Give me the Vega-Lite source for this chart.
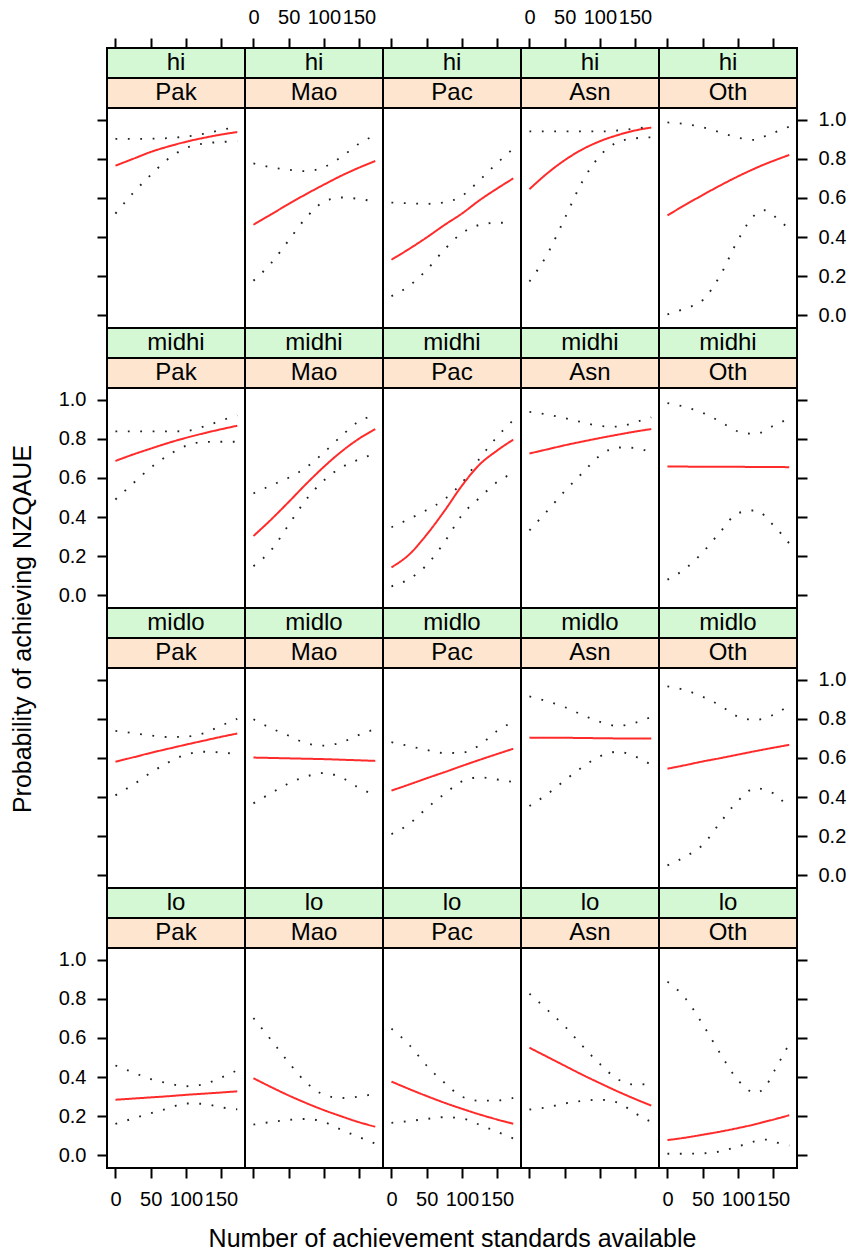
{
"$schema": "https://vega.github.io/schema/vega-lite/v6.json",
"padding": {"left": 11, "top": 6, "right": 5, "bottom": 2},
"datasets": {"d": [
{"s":"hi","e":"Pak","x":0,"lo":0.52,"fit":0.765,"up":0.902},
{"s":"hi","e":"Pak","x":25,"lo":0.625,"fit":0.80,"up":0.902},
{"s":"hi","e":"Pak","x":50,"lo":0.717,"fit":0.835,"up":0.903},
{"s":"hi","e":"Pak","x":75,"lo":0.80,"fit":0.863,"up":0.906},
{"s":"hi","e":"Pak","x":100,"lo":0.855,"fit":0.887,"up":0.914},
{"s":"hi","e":"Pak","x":125,"lo":0.878,"fit":0.907,"up":0.928},
{"s":"hi","e":"Pak","x":150,"lo":0.886,"fit":0.924,"up":0.947},
{"s":"hi","e":"Pak","x":173,"lo":0.89,"fit":0.937,"up":0.965},
{"s":"hi","e":"Mao","x":0,"lo":0.177,"fit":0.463,"up":0.777},
{"s":"hi","e":"Mao","x":25,"lo":0.266,"fit":0.516,"up":0.757},
{"s":"hi","e":"Mao","x":50,"lo":0.383,"fit":0.569,"up":0.744},
{"s":"hi","e":"Mao","x":75,"lo":0.50,"fit":0.62,"up":0.737},
{"s":"hi","e":"Mao","x":100,"lo":0.58,"fit":0.668,"up":0.758},
{"s":"hi","e":"Mao","x":125,"lo":0.602,"fit":0.714,"up":0.81},
{"s":"hi","e":"Mao","x":150,"lo":0.595,"fit":0.755,"up":0.878},
{"s":"hi","e":"Mao","x":173,"lo":0.58,"fit":0.789,"up":0.92},
{"s":"hi","e":"Pac","x":0,"lo":0.098,"fit":0.284,"up":0.576},
{"s":"hi","e":"Pac","x":25,"lo":0.15,"fit":0.339,"up":0.573},
{"s":"hi","e":"Pac","x":50,"lo":0.232,"fit":0.398,"up":0.57},
{"s":"hi","e":"Pac","x":75,"lo":0.335,"fit":0.461,"up":0.577},
{"s":"hi","e":"Pac","x":100,"lo":0.42,"fit":0.52,"up":0.61},
{"s":"hi","e":"Pac","x":125,"lo":0.462,"fit":0.588,"up":0.69},
{"s":"hi","e":"Pac","x":150,"lo":0.473,"fit":0.648,"up":0.778},
{"s":"hi","e":"Pac","x":173,"lo":0.473,"fit":0.70,"up":0.852},
{"s":"hi","e":"Asn","x":0,"lo":0.173,"fit":0.645,"up":0.94},
{"s":"hi","e":"Asn","x":25,"lo":0.31,"fit":0.725,"up":0.94},
{"s":"hi","e":"Asn","x":50,"lo":0.495,"fit":0.793,"up":0.94},
{"s":"hi","e":"Asn","x":75,"lo":0.683,"fit":0.848,"up":0.94},
{"s":"hi","e":"Asn","x":100,"lo":0.815,"fit":0.89,"up":0.94},
{"s":"hi","e":"Asn","x":125,"lo":0.885,"fit":0.921,"up":0.945},
{"s":"hi","e":"Asn","x":150,"lo":0.905,"fit":0.945,"up":0.955},
{"s":"hi","e":"Asn","x":173,"lo":0.91,"fit":0.96,"up":0.965},
{"s":"hi","e":"Oth","x":0,"lo":0.005,"fit":0.511,"up":0.986},
{"s":"hi","e":"Oth","x":25,"lo":0.035,"fit":0.564,"up":0.978},
{"s":"hi","e":"Oth","x":50,"lo":0.077,"fit":0.615,"up":0.961},
{"s":"hi","e":"Oth","x":75,"lo":0.204,"fit":0.664,"up":0.935},
{"s":"hi","e":"Oth","x":100,"lo":0.384,"fit":0.71,"up":0.908},
{"s":"hi","e":"Oth","x":125,"lo":0.516,"fit":0.752,"up":0.897},
{"s":"hi","e":"Oth","x":138,"lo":0.537,"fit":0.772,"up":0.915},
{"s":"hi","e":"Oth","x":150,"lo":0.511,"fit":0.789,"up":0.932},
{"s":"hi","e":"Oth","x":173,"lo":0.44,"fit":0.82,"up":0.965},
{"s":"midhi","e":"Pak","x":0,"lo":0.49,"fit":0.687,"up":0.838},
{"s":"midhi","e":"Pak","x":25,"lo":0.572,"fit":0.72,"up":0.838},
{"s":"midhi","e":"Pak","x":50,"lo":0.652,"fit":0.75,"up":0.838},
{"s":"midhi","e":"Pak","x":75,"lo":0.716,"fit":0.779,"up":0.838},
{"s":"midhi","e":"Pak","x":100,"lo":0.764,"fit":0.805,"up":0.84},
{"s":"midhi","e":"Pak","x":125,"lo":0.784,"fit":0.828,"up":0.862},
{"s":"midhi","e":"Pak","x":150,"lo":0.785,"fit":0.849,"up":0.893},
{"s":"midhi","e":"Pak","x":173,"lo":0.785,"fit":0.867,"up":0.92},
{"s":"midhi","e":"Mao","x":0,"lo":0.149,"fit":0.303,"up":0.521},
{"s":"midhi","e":"Mao","x":25,"lo":0.23,"fit":0.387,"up":0.562},
{"s":"midhi","e":"Mao","x":50,"lo":0.36,"fit":0.477,"up":0.601},
{"s":"midhi","e":"Mao","x":75,"lo":0.49,"fit":0.57,"up":0.654},
{"s":"midhi","e":"Mao","x":100,"lo":0.587,"fit":0.657,"up":0.73},
{"s":"midhi","e":"Mao","x":125,"lo":0.654,"fit":0.735,"up":0.815},
{"s":"midhi","e":"Mao","x":150,"lo":0.695,"fit":0.801,"up":0.89},
{"s":"midhi","e":"Mao","x":173,"lo":0.725,"fit":0.85,"up":0.92},
{"s":"midhi","e":"Pac","x":0,"lo":0.046,"fit":0.143,"up":0.348},
{"s":"midhi","e":"Pac","x":25,"lo":0.083,"fit":0.208,"up":0.39},
{"s":"midhi","e":"Pac","x":50,"lo":0.155,"fit":0.31,"up":0.436},
{"s":"midhi","e":"Pac","x":75,"lo":0.27,"fit":0.43,"up":0.49},
{"s":"midhi","e":"Pac","x":100,"lo":0.41,"fit":0.56,"up":0.575},
{"s":"midhi","e":"Pac","x":125,"lo":0.498,"fit":0.668,"up":0.698},
{"s":"midhi","e":"Pac","x":150,"lo":0.579,"fit":0.74,"up":0.81},
{"s":"midhi","e":"Pac","x":173,"lo":0.625,"fit":0.796,"up":0.895},
{"s":"midhi","e":"Asn","x":0,"lo":0.332,"fit":0.725,"up":0.938},
{"s":"midhi","e":"Asn","x":25,"lo":0.43,"fit":0.746,"up":0.924},
{"s":"midhi","e":"Asn","x":50,"lo":0.532,"fit":0.767,"up":0.906},
{"s":"midhi","e":"Asn","x":75,"lo":0.625,"fit":0.786,"up":0.885},
{"s":"midhi","e":"Asn","x":100,"lo":0.714,"fit":0.804,"up":0.866},
{"s":"midhi","e":"Asn","x":125,"lo":0.756,"fit":0.821,"up":0.862},
{"s":"midhi","e":"Asn","x":150,"lo":0.753,"fit":0.837,"up":0.885},
{"s":"midhi","e":"Asn","x":173,"lo":0.73,"fit":0.85,"up":0.91},
{"s":"midhi","e":"Oth","x":0,"lo":0.08,"fit":0.658,"up":0.983},
{"s":"midhi","e":"Oth","x":25,"lo":0.135,"fit":0.658,"up":0.963},
{"s":"midhi","e":"Oth","x":50,"lo":0.219,"fit":0.657,"up":0.933},
{"s":"midhi","e":"Oth","x":75,"lo":0.324,"fit":0.657,"up":0.888},
{"s":"midhi","e":"Oth","x":100,"lo":0.42,"fit":0.657,"up":0.838},
{"s":"midhi","e":"Oth","x":125,"lo":0.434,"fit":0.656,"up":0.825},
{"s":"midhi","e":"Oth","x":150,"lo":0.36,"fit":0.656,"up":0.866},
{"s":"midhi","e":"Oth","x":173,"lo":0.265,"fit":0.655,"up":0.905},
{"s":"midlo","e":"Pak","x":0,"lo":0.409,"fit":0.581,"up":0.738},
{"s":"midlo","e":"Pak","x":25,"lo":0.463,"fit":0.603,"up":0.727},
{"s":"midlo","e":"Pak","x":50,"lo":0.524,"fit":0.626,"up":0.715},
{"s":"midlo","e":"Pak","x":75,"lo":0.577,"fit":0.647,"up":0.707},
{"s":"midlo","e":"Pak","x":100,"lo":0.617,"fit":0.668,"up":0.709},
{"s":"midlo","e":"Pak","x":125,"lo":0.632,"fit":0.688,"up":0.726},
{"s":"midlo","e":"Pak","x":150,"lo":0.628,"fit":0.708,"up":0.765},
{"s":"midlo","e":"Pak","x":173,"lo":0.62,"fit":0.725,"up":0.80},
{"s":"midlo","e":"Mao","x":0,"lo":0.368,"fit":0.602,"up":0.798},
{"s":"midlo","e":"Mao","x":25,"lo":0.42,"fit":0.60,"up":0.752},
{"s":"midlo","e":"Mao","x":50,"lo":0.47,"fit":0.598,"up":0.714},
{"s":"midlo","e":"Mao","x":75,"lo":0.505,"fit":0.596,"up":0.675},
{"s":"midlo","e":"Mao","x":100,"lo":0.523,"fit":0.594,"up":0.663},
{"s":"midlo","e":"Mao","x":125,"lo":0.50,"fit":0.591,"up":0.68},
{"s":"midlo","e":"Mao","x":150,"lo":0.447,"fit":0.588,"up":0.718},
{"s":"midlo","e":"Mao","x":173,"lo":0.41,"fit":0.585,"up":0.748},
{"s":"midlo","e":"Pac","x":0,"lo":0.211,"fit":0.433,"up":0.681},
{"s":"midlo","e":"Pac","x":25,"lo":0.262,"fit":0.464,"up":0.661},
{"s":"midlo","e":"Pac","x":50,"lo":0.343,"fit":0.496,"up":0.641},
{"s":"midlo","e":"Pac","x":75,"lo":0.415,"fit":0.527,"up":0.625},
{"s":"midlo","e":"Pac","x":100,"lo":0.48,"fit":0.559,"up":0.627},
{"s":"midlo","e":"Pac","x":125,"lo":0.501,"fit":0.59,"up":0.665},
{"s":"midlo","e":"Pac","x":150,"lo":0.49,"fit":0.62,"up":0.738},
{"s":"midlo","e":"Pac","x":173,"lo":0.477,"fit":0.647,"up":0.785},
{"s":"midlo","e":"Asn","x":0,"lo":0.354,"fit":0.704,"up":0.915},
{"s":"midlo","e":"Asn","x":25,"lo":0.414,"fit":0.703,"up":0.89},
{"s":"midlo","e":"Asn","x":50,"lo":0.485,"fit":0.703,"up":0.86},
{"s":"midlo","e":"Asn","x":75,"lo":0.553,"fit":0.702,"up":0.82},
{"s":"midlo","e":"Asn","x":100,"lo":0.608,"fit":0.701,"up":0.785},
{"s":"midlo","e":"Asn","x":125,"lo":0.632,"fit":0.70,"up":0.764},
{"s":"midlo","e":"Asn","x":150,"lo":0.608,"fit":0.70,"up":0.78},
{"s":"midlo","e":"Asn","x":173,"lo":0.565,"fit":0.699,"up":0.81},
{"s":"midlo","e":"Oth","x":0,"lo":0.051,"fit":0.545,"up":0.966},
{"s":"midlo","e":"Oth","x":25,"lo":0.095,"fit":0.563,"up":0.947},
{"s":"midlo","e":"Oth","x":50,"lo":0.155,"fit":0.582,"up":0.913},
{"s":"midlo","e":"Oth","x":75,"lo":0.27,"fit":0.599,"up":0.868},
{"s":"midlo","e":"Oth","x":100,"lo":0.38,"fit":0.617,"up":0.812},
{"s":"midlo","e":"Oth","x":125,"lo":0.445,"fit":0.635,"up":0.795},
{"s":"midlo","e":"Oth","x":150,"lo":0.42,"fit":0.652,"up":0.82},
{"s":"midlo","e":"Oth","x":173,"lo":0.34,"fit":0.667,"up":0.87},
{"s":"lo","e":"Pak","x":0,"lo":0.161,"fit":0.284,"up":0.459},
{"s":"lo","e":"Pak","x":25,"lo":0.188,"fit":0.29,"up":0.424},
{"s":"lo","e":"Pak","x":50,"lo":0.215,"fit":0.296,"up":0.39},
{"s":"lo","e":"Pak","x":75,"lo":0.24,"fit":0.302,"up":0.368},
{"s":"lo","e":"Pak","x":100,"lo":0.265,"fit":0.309,"up":0.353},
{"s":"lo","e":"Pak","x":125,"lo":0.263,"fit":0.315,"up":0.363},
{"s":"lo","e":"Pak","x":150,"lo":0.245,"fit":0.321,"up":0.397},
{"s":"lo","e":"Pak","x":173,"lo":0.235,"fit":0.327,"up":0.435},
{"s":"lo","e":"Mao","x":0,"lo":0.157,"fit":0.394,"up":0.702},
{"s":"lo","e":"Mao","x":25,"lo":0.17,"fit":0.349,"up":0.59},
{"s":"lo","e":"Mao","x":50,"lo":0.181,"fit":0.306,"up":0.475},
{"s":"lo","e":"Mao","x":75,"lo":0.186,"fit":0.267,"up":0.372},
{"s":"lo","e":"Mao","x":100,"lo":0.17,"fit":0.231,"up":0.31},
{"s":"lo","e":"Mao","x":125,"lo":0.13,"fit":0.199,"up":0.293},
{"s":"lo","e":"Mao","x":150,"lo":0.093,"fit":0.169,"up":0.30},
{"s":"lo","e":"Mao","x":173,"lo":0.06,"fit":0.146,"up":0.315},
{"s":"lo","e":"Pac","x":0,"lo":0.166,"fit":0.377,"up":0.648},
{"s":"lo","e":"Pac","x":25,"lo":0.175,"fit":0.339,"up":0.566},
{"s":"lo","e":"Pac","x":50,"lo":0.186,"fit":0.303,"up":0.458},
{"s":"lo","e":"Pac","x":75,"lo":0.195,"fit":0.269,"up":0.372},
{"s":"lo","e":"Pac","x":100,"lo":0.189,"fit":0.238,"up":0.30},
{"s":"lo","e":"Pac","x":125,"lo":0.156,"fit":0.209,"up":0.279},
{"s":"lo","e":"Pac","x":150,"lo":0.12,"fit":0.183,"up":0.28},
{"s":"lo","e":"Pac","x":173,"lo":0.086,"fit":0.161,"up":0.293},
{"s":"lo","e":"Asn","x":0,"lo":0.234,"fit":0.55,"up":0.826},
{"s":"lo","e":"Asn","x":25,"lo":0.245,"fit":0.504,"up":0.745},
{"s":"lo","e":"Asn","x":50,"lo":0.265,"fit":0.458,"up":0.66},
{"s":"lo","e":"Asn","x":75,"lo":0.278,"fit":0.412,"up":0.56},
{"s":"lo","e":"Asn","x":100,"lo":0.284,"fit":0.369,"up":0.467},
{"s":"lo","e":"Asn","x":125,"lo":0.27,"fit":0.327,"up":0.39},
{"s":"lo","e":"Asn","x":150,"lo":0.215,"fit":0.288,"up":0.362},
{"s":"lo","e":"Asn","x":173,"lo":0.17,"fit":0.254,"up":0.365},
{"s":"lo","e":"Oth","x":0,"lo":0.008,"fit":0.078,"up":0.888},
{"s":"lo","e":"Oth","x":25,"lo":0.008,"fit":0.09,"up":0.805},
{"s":"lo","e":"Oth","x":50,"lo":0.01,"fit":0.105,"up":0.67},
{"s":"lo","e":"Oth","x":75,"lo":0.02,"fit":0.121,"up":0.52},
{"s":"lo","e":"Oth","x":100,"lo":0.045,"fit":0.139,"up":0.385},
{"s":"lo","e":"Oth","x":125,"lo":0.072,"fit":0.159,"up":0.32},
{"s":"lo","e":"Oth","x":140,"lo":0.08,"fit":0.173,"up":0.355},
{"s":"lo","e":"Oth","x":150,"lo":0.07,"fit":0.182,"up":0.42},
{"s":"lo","e":"Oth","x":173,"lo":0.05,"fit":0.205,"up":0.57}
]},
"data": {"name": "d"},
"title": {"text": "Probability of achieving NZQAUE", "orient": "left", "anchor": "middle", "fontSize": 25, "fontWeight": "normal", "font": "Liberation Sans", "color": "black", "offset": 21},
"columns": 5,
"spacing": 0,
"bounds": "flush",
"concat": [
{"width":138,"height":280,"transform":[{"filter":"datum.s=='hi'&&datum.e=='Pak'"}],"layer":[
{"transform":[{"fold":["lo","fit","up"],"as":["band","p"]}],"mark":"line","encoding":{"x":{"field":"x","type":"quantitative","scale":{"domain":[-12,184],"nice":false,"zero":false},"axis":{"orient":"top","values":[0,50,100,150],"labels":false,"title":null}},"y":{"field":"p","type":"quantitative","scale":{"domain":[-0.065,1.3668],"nice":false,"zero":false},"axis":{"orient":"left","values":[0,0.2,0.4,0.6,0.8,1],"labels":false,"title":null}},"color":{"field":"band","type":"nominal","scale":{"domain":["fit","lo","up"],"range":["#ff2b2b","#222222","#222222"]},"legend":null},"strokeDash":{"field":"band","type":"nominal","scale":{"domain":["fit","lo","up"],"range":[[1,0],[1.8,10.6],[1.8,10.6]]},"legend":null},"strokeWidth":{"field":"band","type":"nominal","scale":{"domain":["fit","lo","up"],"range":[2,1.8,1.8]},"legend":null}}},
{"transform":[{"aggregate":[{"op":"count","as":"n"}],"groupby":["s","e"]}],"layer":[{"mark":{"type":"rect","fill":"#d4f8d4"},"encoding":{"x":{"datum":-12},"x2":{"datum":184},"y":{"datum":1.2134},"y2":{"datum":1.3668}}},{"mark":{"type":"rect","fill":"#fde5cf"},"encoding":{"x":{"datum":-12},"x2":{"datum":184},"y":{"datum":1.06},"y2":{"datum":1.2134}}},{"mark":"text","encoding":{"x":{"datum":86},"y":{"datum":1.29},"text":{"field":"s"}}},{"mark":"text","encoding":{"x":{"datum":86},"y":{"datum":1.137},"text":{"field":"e"}}}]}]},
{"width":138,"height":280,"transform":[{"filter":"datum.s=='hi'&&datum.e=='Mao'"}],"layer":[
{"transform":[{"fold":["lo","fit","up"],"as":["band","p"]}],"mark":"line","encoding":{"x":{"field":"x","type":"quantitative","scale":{"domain":[-12,184],"nice":false,"zero":false},"axis":{"orient":"top","values":[0,50,100,150],"title":null}},"y":{"field":"p","type":"quantitative","scale":{"domain":[-0.065,1.3668],"nice":false,"zero":false},"axis":null},"color":{"field":"band","type":"nominal","scale":{"domain":["fit","lo","up"],"range":["#ff2b2b","#222222","#222222"]},"legend":null},"strokeDash":{"field":"band","type":"nominal","scale":{"domain":["fit","lo","up"],"range":[[1,0],[1.8,10.6],[1.8,10.6]]},"legend":null},"strokeWidth":{"field":"band","type":"nominal","scale":{"domain":["fit","lo","up"],"range":[2,1.8,1.8]},"legend":null}}},
{"transform":[{"aggregate":[{"op":"count","as":"n"}],"groupby":["s","e"]}],"layer":[{"mark":{"type":"rect","fill":"#d4f8d4"},"encoding":{"x":{"datum":-12},"x2":{"datum":184},"y":{"datum":1.2134},"y2":{"datum":1.3668}}},{"mark":{"type":"rect","fill":"#fde5cf"},"encoding":{"x":{"datum":-12},"x2":{"datum":184},"y":{"datum":1.06},"y2":{"datum":1.2134}}},{"mark":"text","encoding":{"x":{"datum":86},"y":{"datum":1.29},"text":{"field":"s"}}},{"mark":"text","encoding":{"x":{"datum":86},"y":{"datum":1.137},"text":{"field":"e"}}}]}]},
{"width":138,"height":280,"transform":[{"filter":"datum.s=='hi'&&datum.e=='Pac'"}],"layer":[
{"transform":[{"fold":["lo","fit","up"],"as":["band","p"]}],"mark":"line","encoding":{"x":{"field":"x","type":"quantitative","scale":{"domain":[-12,184],"nice":false,"zero":false},"axis":{"orient":"top","values":[0,50,100,150],"labels":false,"title":null}},"y":{"field":"p","type":"quantitative","scale":{"domain":[-0.065,1.3668],"nice":false,"zero":false},"axis":null},"color":{"field":"band","type":"nominal","scale":{"domain":["fit","lo","up"],"range":["#ff2b2b","#222222","#222222"]},"legend":null},"strokeDash":{"field":"band","type":"nominal","scale":{"domain":["fit","lo","up"],"range":[[1,0],[1.8,10.6],[1.8,10.6]]},"legend":null},"strokeWidth":{"field":"band","type":"nominal","scale":{"domain":["fit","lo","up"],"range":[2,1.8,1.8]},"legend":null}}},
{"transform":[{"aggregate":[{"op":"count","as":"n"}],"groupby":["s","e"]}],"layer":[{"mark":{"type":"rect","fill":"#d4f8d4"},"encoding":{"x":{"datum":-12},"x2":{"datum":184},"y":{"datum":1.2134},"y2":{"datum":1.3668}}},{"mark":{"type":"rect","fill":"#fde5cf"},"encoding":{"x":{"datum":-12},"x2":{"datum":184},"y":{"datum":1.06},"y2":{"datum":1.2134}}},{"mark":"text","encoding":{"x":{"datum":86},"y":{"datum":1.29},"text":{"field":"s"}}},{"mark":"text","encoding":{"x":{"datum":86},"y":{"datum":1.137},"text":{"field":"e"}}}]}]},
{"width":138,"height":280,"transform":[{"filter":"datum.s=='hi'&&datum.e=='Asn'"}],"layer":[
{"transform":[{"fold":["lo","fit","up"],"as":["band","p"]}],"mark":"line","encoding":{"x":{"field":"x","type":"quantitative","scale":{"domain":[-12,184],"nice":false,"zero":false},"axis":{"orient":"top","values":[0,50,100,150],"title":null}},"y":{"field":"p","type":"quantitative","scale":{"domain":[-0.065,1.3668],"nice":false,"zero":false},"axis":null},"color":{"field":"band","type":"nominal","scale":{"domain":["fit","lo","up"],"range":["#ff2b2b","#222222","#222222"]},"legend":null},"strokeDash":{"field":"band","type":"nominal","scale":{"domain":["fit","lo","up"],"range":[[1,0],[1.8,10.6],[1.8,10.6]]},"legend":null},"strokeWidth":{"field":"band","type":"nominal","scale":{"domain":["fit","lo","up"],"range":[2,1.8,1.8]},"legend":null}}},
{"transform":[{"aggregate":[{"op":"count","as":"n"}],"groupby":["s","e"]}],"layer":[{"mark":{"type":"rect","fill":"#d4f8d4"},"encoding":{"x":{"datum":-12},"x2":{"datum":184},"y":{"datum":1.2134},"y2":{"datum":1.3668}}},{"mark":{"type":"rect","fill":"#fde5cf"},"encoding":{"x":{"datum":-12},"x2":{"datum":184},"y":{"datum":1.06},"y2":{"datum":1.2134}}},{"mark":"text","encoding":{"x":{"datum":86},"y":{"datum":1.29},"text":{"field":"s"}}},{"mark":"text","encoding":{"x":{"datum":86},"y":{"datum":1.137},"text":{"field":"e"}}}]}]},
{"width":138,"height":280,"transform":[{"filter":"datum.s=='hi'&&datum.e=='Oth'"}],"layer":[
{"transform":[{"fold":["lo","fit","up"],"as":["band","p"]}],"mark":"line","encoding":{"x":{"field":"x","type":"quantitative","scale":{"domain":[-12,184],"nice":false,"zero":false},"axis":{"orient":"top","values":[0,50,100,150],"labels":false,"title":null}},"y":{"field":"p","type":"quantitative","scale":{"domain":[-0.065,1.3668],"nice":false,"zero":false},"axis":{"orient":"right","values":[0,0.2,0.4,0.6,0.8,1],"format":".1f","title":null}},"color":{"field":"band","type":"nominal","scale":{"domain":["fit","lo","up"],"range":["#ff2b2b","#222222","#222222"]},"legend":null},"strokeDash":{"field":"band","type":"nominal","scale":{"domain":["fit","lo","up"],"range":[[1,0],[1.8,10.6],[1.8,10.6]]},"legend":null},"strokeWidth":{"field":"band","type":"nominal","scale":{"domain":["fit","lo","up"],"range":[2,1.8,1.8]},"legend":null}}},
{"transform":[{"aggregate":[{"op":"count","as":"n"}],"groupby":["s","e"]}],"layer":[{"mark":{"type":"rect","fill":"#d4f8d4"},"encoding":{"x":{"datum":-12},"x2":{"datum":184},"y":{"datum":1.2134},"y2":{"datum":1.3668}}},{"mark":{"type":"rect","fill":"#fde5cf"},"encoding":{"x":{"datum":-12},"x2":{"datum":184},"y":{"datum":1.06},"y2":{"datum":1.2134}}},{"mark":"text","encoding":{"x":{"datum":86},"y":{"datum":1.29},"text":{"field":"s"}}},{"mark":"text","encoding":{"x":{"datum":86},"y":{"datum":1.137},"text":{"field":"e"}}}]}]},
{"width":138,"height":280,"transform":[{"filter":"datum.s=='midhi'&&datum.e=='Pak'"}],"layer":[
{"transform":[{"fold":["lo","fit","up"],"as":["band","p"]}],"mark":"line","encoding":{"x":{"field":"x","type":"quantitative","scale":{"domain":[-12,184],"nice":false,"zero":false},"axis":null},"y":{"field":"p","type":"quantitative","scale":{"domain":[-0.065,1.3668],"nice":false,"zero":false},"axis":{"orient":"left","values":[0,0.2,0.4,0.6,0.8,1],"format":".1f","title":null}},"color":{"field":"band","type":"nominal","scale":{"domain":["fit","lo","up"],"range":["#ff2b2b","#222222","#222222"]},"legend":null},"strokeDash":{"field":"band","type":"nominal","scale":{"domain":["fit","lo","up"],"range":[[1,0],[1.8,10.6],[1.8,10.6]]},"legend":null},"strokeWidth":{"field":"band","type":"nominal","scale":{"domain":["fit","lo","up"],"range":[2,1.8,1.8]},"legend":null}}},
{"transform":[{"aggregate":[{"op":"count","as":"n"}],"groupby":["s","e"]}],"layer":[{"mark":{"type":"rect","fill":"#d4f8d4"},"encoding":{"x":{"datum":-12},"x2":{"datum":184},"y":{"datum":1.2134},"y2":{"datum":1.3668}}},{"mark":{"type":"rect","fill":"#fde5cf"},"encoding":{"x":{"datum":-12},"x2":{"datum":184},"y":{"datum":1.06},"y2":{"datum":1.2134}}},{"mark":"text","encoding":{"x":{"datum":86},"y":{"datum":1.29},"text":{"field":"s"}}},{"mark":"text","encoding":{"x":{"datum":86},"y":{"datum":1.137},"text":{"field":"e"}}}]}]},
{"width":138,"height":280,"transform":[{"filter":"datum.s=='midhi'&&datum.e=='Mao'"}],"layer":[
{"transform":[{"fold":["lo","fit","up"],"as":["band","p"]}],"mark":"line","encoding":{"x":{"field":"x","type":"quantitative","scale":{"domain":[-12,184],"nice":false,"zero":false},"axis":null},"y":{"field":"p","type":"quantitative","scale":{"domain":[-0.065,1.3668],"nice":false,"zero":false},"axis":null},"color":{"field":"band","type":"nominal","scale":{"domain":["fit","lo","up"],"range":["#ff2b2b","#222222","#222222"]},"legend":null},"strokeDash":{"field":"band","type":"nominal","scale":{"domain":["fit","lo","up"],"range":[[1,0],[1.8,10.6],[1.8,10.6]]},"legend":null},"strokeWidth":{"field":"band","type":"nominal","scale":{"domain":["fit","lo","up"],"range":[2,1.8,1.8]},"legend":null}}},
{"transform":[{"aggregate":[{"op":"count","as":"n"}],"groupby":["s","e"]}],"layer":[{"mark":{"type":"rect","fill":"#d4f8d4"},"encoding":{"x":{"datum":-12},"x2":{"datum":184},"y":{"datum":1.2134},"y2":{"datum":1.3668}}},{"mark":{"type":"rect","fill":"#fde5cf"},"encoding":{"x":{"datum":-12},"x2":{"datum":184},"y":{"datum":1.06},"y2":{"datum":1.2134}}},{"mark":"text","encoding":{"x":{"datum":86},"y":{"datum":1.29},"text":{"field":"s"}}},{"mark":"text","encoding":{"x":{"datum":86},"y":{"datum":1.137},"text":{"field":"e"}}}]}]},
{"width":138,"height":280,"transform":[{"filter":"datum.s=='midhi'&&datum.e=='Pac'"}],"layer":[
{"transform":[{"fold":["lo","fit","up"],"as":["band","p"]}],"mark":"line","encoding":{"x":{"field":"x","type":"quantitative","scale":{"domain":[-12,184],"nice":false,"zero":false},"axis":null},"y":{"field":"p","type":"quantitative","scale":{"domain":[-0.065,1.3668],"nice":false,"zero":false},"axis":null},"color":{"field":"band","type":"nominal","scale":{"domain":["fit","lo","up"],"range":["#ff2b2b","#222222","#222222"]},"legend":null},"strokeDash":{"field":"band","type":"nominal","scale":{"domain":["fit","lo","up"],"range":[[1,0],[1.8,10.6],[1.8,10.6]]},"legend":null},"strokeWidth":{"field":"band","type":"nominal","scale":{"domain":["fit","lo","up"],"range":[2,1.8,1.8]},"legend":null}}},
{"transform":[{"aggregate":[{"op":"count","as":"n"}],"groupby":["s","e"]}],"layer":[{"mark":{"type":"rect","fill":"#d4f8d4"},"encoding":{"x":{"datum":-12},"x2":{"datum":184},"y":{"datum":1.2134},"y2":{"datum":1.3668}}},{"mark":{"type":"rect","fill":"#fde5cf"},"encoding":{"x":{"datum":-12},"x2":{"datum":184},"y":{"datum":1.06},"y2":{"datum":1.2134}}},{"mark":"text","encoding":{"x":{"datum":86},"y":{"datum":1.29},"text":{"field":"s"}}},{"mark":"text","encoding":{"x":{"datum":86},"y":{"datum":1.137},"text":{"field":"e"}}}]}]},
{"width":138,"height":280,"transform":[{"filter":"datum.s=='midhi'&&datum.e=='Asn'"}],"layer":[
{"transform":[{"fold":["lo","fit","up"],"as":["band","p"]}],"mark":"line","encoding":{"x":{"field":"x","type":"quantitative","scale":{"domain":[-12,184],"nice":false,"zero":false},"axis":null},"y":{"field":"p","type":"quantitative","scale":{"domain":[-0.065,1.3668],"nice":false,"zero":false},"axis":null},"color":{"field":"band","type":"nominal","scale":{"domain":["fit","lo","up"],"range":["#ff2b2b","#222222","#222222"]},"legend":null},"strokeDash":{"field":"band","type":"nominal","scale":{"domain":["fit","lo","up"],"range":[[1,0],[1.8,10.6],[1.8,10.6]]},"legend":null},"strokeWidth":{"field":"band","type":"nominal","scale":{"domain":["fit","lo","up"],"range":[2,1.8,1.8]},"legend":null}}},
{"transform":[{"aggregate":[{"op":"count","as":"n"}],"groupby":["s","e"]}],"layer":[{"mark":{"type":"rect","fill":"#d4f8d4"},"encoding":{"x":{"datum":-12},"x2":{"datum":184},"y":{"datum":1.2134},"y2":{"datum":1.3668}}},{"mark":{"type":"rect","fill":"#fde5cf"},"encoding":{"x":{"datum":-12},"x2":{"datum":184},"y":{"datum":1.06},"y2":{"datum":1.2134}}},{"mark":"text","encoding":{"x":{"datum":86},"y":{"datum":1.29},"text":{"field":"s"}}},{"mark":"text","encoding":{"x":{"datum":86},"y":{"datum":1.137},"text":{"field":"e"}}}]}]},
{"width":138,"height":280,"transform":[{"filter":"datum.s=='midhi'&&datum.e=='Oth'"}],"layer":[
{"transform":[{"fold":["lo","fit","up"],"as":["band","p"]}],"mark":"line","encoding":{"x":{"field":"x","type":"quantitative","scale":{"domain":[-12,184],"nice":false,"zero":false},"axis":null},"y":{"field":"p","type":"quantitative","scale":{"domain":[-0.065,1.3668],"nice":false,"zero":false},"axis":{"orient":"right","values":[0,0.2,0.4,0.6,0.8,1],"labels":false,"title":null}},"color":{"field":"band","type":"nominal","scale":{"domain":["fit","lo","up"],"range":["#ff2b2b","#222222","#222222"]},"legend":null},"strokeDash":{"field":"band","type":"nominal","scale":{"domain":["fit","lo","up"],"range":[[1,0],[1.8,10.6],[1.8,10.6]]},"legend":null},"strokeWidth":{"field":"band","type":"nominal","scale":{"domain":["fit","lo","up"],"range":[2,1.8,1.8]},"legend":null}}},
{"transform":[{"aggregate":[{"op":"count","as":"n"}],"groupby":["s","e"]}],"layer":[{"mark":{"type":"rect","fill":"#d4f8d4"},"encoding":{"x":{"datum":-12},"x2":{"datum":184},"y":{"datum":1.2134},"y2":{"datum":1.3668}}},{"mark":{"type":"rect","fill":"#fde5cf"},"encoding":{"x":{"datum":-12},"x2":{"datum":184},"y":{"datum":1.06},"y2":{"datum":1.2134}}},{"mark":"text","encoding":{"x":{"datum":86},"y":{"datum":1.29},"text":{"field":"s"}}},{"mark":"text","encoding":{"x":{"datum":86},"y":{"datum":1.137},"text":{"field":"e"}}}]}]},
{"width":138,"height":280,"transform":[{"filter":"datum.s=='midlo'&&datum.e=='Pak'"}],"layer":[
{"transform":[{"fold":["lo","fit","up"],"as":["band","p"]}],"mark":"line","encoding":{"x":{"field":"x","type":"quantitative","scale":{"domain":[-12,184],"nice":false,"zero":false},"axis":null},"y":{"field":"p","type":"quantitative","scale":{"domain":[-0.065,1.3668],"nice":false,"zero":false},"axis":{"orient":"left","values":[0,0.2,0.4,0.6,0.8,1],"labels":false,"title":null}},"color":{"field":"band","type":"nominal","scale":{"domain":["fit","lo","up"],"range":["#ff2b2b","#222222","#222222"]},"legend":null},"strokeDash":{"field":"band","type":"nominal","scale":{"domain":["fit","lo","up"],"range":[[1,0],[1.8,10.6],[1.8,10.6]]},"legend":null},"strokeWidth":{"field":"band","type":"nominal","scale":{"domain":["fit","lo","up"],"range":[2,1.8,1.8]},"legend":null}}},
{"transform":[{"aggregate":[{"op":"count","as":"n"}],"groupby":["s","e"]}],"layer":[{"mark":{"type":"rect","fill":"#d4f8d4"},"encoding":{"x":{"datum":-12},"x2":{"datum":184},"y":{"datum":1.2134},"y2":{"datum":1.3668}}},{"mark":{"type":"rect","fill":"#fde5cf"},"encoding":{"x":{"datum":-12},"x2":{"datum":184},"y":{"datum":1.06},"y2":{"datum":1.2134}}},{"mark":"text","encoding":{"x":{"datum":86},"y":{"datum":1.29},"text":{"field":"s"}}},{"mark":"text","encoding":{"x":{"datum":86},"y":{"datum":1.137},"text":{"field":"e"}}}]}]},
{"width":138,"height":280,"transform":[{"filter":"datum.s=='midlo'&&datum.e=='Mao'"}],"layer":[
{"transform":[{"fold":["lo","fit","up"],"as":["band","p"]}],"mark":"line","encoding":{"x":{"field":"x","type":"quantitative","scale":{"domain":[-12,184],"nice":false,"zero":false},"axis":null},"y":{"field":"p","type":"quantitative","scale":{"domain":[-0.065,1.3668],"nice":false,"zero":false},"axis":null},"color":{"field":"band","type":"nominal","scale":{"domain":["fit","lo","up"],"range":["#ff2b2b","#222222","#222222"]},"legend":null},"strokeDash":{"field":"band","type":"nominal","scale":{"domain":["fit","lo","up"],"range":[[1,0],[1.8,10.6],[1.8,10.6]]},"legend":null},"strokeWidth":{"field":"band","type":"nominal","scale":{"domain":["fit","lo","up"],"range":[2,1.8,1.8]},"legend":null}}},
{"transform":[{"aggregate":[{"op":"count","as":"n"}],"groupby":["s","e"]}],"layer":[{"mark":{"type":"rect","fill":"#d4f8d4"},"encoding":{"x":{"datum":-12},"x2":{"datum":184},"y":{"datum":1.2134},"y2":{"datum":1.3668}}},{"mark":{"type":"rect","fill":"#fde5cf"},"encoding":{"x":{"datum":-12},"x2":{"datum":184},"y":{"datum":1.06},"y2":{"datum":1.2134}}},{"mark":"text","encoding":{"x":{"datum":86},"y":{"datum":1.29},"text":{"field":"s"}}},{"mark":"text","encoding":{"x":{"datum":86},"y":{"datum":1.137},"text":{"field":"e"}}}]}]},
{"width":138,"height":280,"transform":[{"filter":"datum.s=='midlo'&&datum.e=='Pac'"}],"layer":[
{"transform":[{"fold":["lo","fit","up"],"as":["band","p"]}],"mark":"line","encoding":{"x":{"field":"x","type":"quantitative","scale":{"domain":[-12,184],"nice":false,"zero":false},"axis":null},"y":{"field":"p","type":"quantitative","scale":{"domain":[-0.065,1.3668],"nice":false,"zero":false},"axis":null},"color":{"field":"band","type":"nominal","scale":{"domain":["fit","lo","up"],"range":["#ff2b2b","#222222","#222222"]},"legend":null},"strokeDash":{"field":"band","type":"nominal","scale":{"domain":["fit","lo","up"],"range":[[1,0],[1.8,10.6],[1.8,10.6]]},"legend":null},"strokeWidth":{"field":"band","type":"nominal","scale":{"domain":["fit","lo","up"],"range":[2,1.8,1.8]},"legend":null}}},
{"transform":[{"aggregate":[{"op":"count","as":"n"}],"groupby":["s","e"]}],"layer":[{"mark":{"type":"rect","fill":"#d4f8d4"},"encoding":{"x":{"datum":-12},"x2":{"datum":184},"y":{"datum":1.2134},"y2":{"datum":1.3668}}},{"mark":{"type":"rect","fill":"#fde5cf"},"encoding":{"x":{"datum":-12},"x2":{"datum":184},"y":{"datum":1.06},"y2":{"datum":1.2134}}},{"mark":"text","encoding":{"x":{"datum":86},"y":{"datum":1.29},"text":{"field":"s"}}},{"mark":"text","encoding":{"x":{"datum":86},"y":{"datum":1.137},"text":{"field":"e"}}}]}]},
{"width":138,"height":280,"transform":[{"filter":"datum.s=='midlo'&&datum.e=='Asn'"}],"layer":[
{"transform":[{"fold":["lo","fit","up"],"as":["band","p"]}],"mark":"line","encoding":{"x":{"field":"x","type":"quantitative","scale":{"domain":[-12,184],"nice":false,"zero":false},"axis":null},"y":{"field":"p","type":"quantitative","scale":{"domain":[-0.065,1.3668],"nice":false,"zero":false},"axis":null},"color":{"field":"band","type":"nominal","scale":{"domain":["fit","lo","up"],"range":["#ff2b2b","#222222","#222222"]},"legend":null},"strokeDash":{"field":"band","type":"nominal","scale":{"domain":["fit","lo","up"],"range":[[1,0],[1.8,10.6],[1.8,10.6]]},"legend":null},"strokeWidth":{"field":"band","type":"nominal","scale":{"domain":["fit","lo","up"],"range":[2,1.8,1.8]},"legend":null}}},
{"transform":[{"aggregate":[{"op":"count","as":"n"}],"groupby":["s","e"]}],"layer":[{"mark":{"type":"rect","fill":"#d4f8d4"},"encoding":{"x":{"datum":-12},"x2":{"datum":184},"y":{"datum":1.2134},"y2":{"datum":1.3668}}},{"mark":{"type":"rect","fill":"#fde5cf"},"encoding":{"x":{"datum":-12},"x2":{"datum":184},"y":{"datum":1.06},"y2":{"datum":1.2134}}},{"mark":"text","encoding":{"x":{"datum":86},"y":{"datum":1.29},"text":{"field":"s"}}},{"mark":"text","encoding":{"x":{"datum":86},"y":{"datum":1.137},"text":{"field":"e"}}}]}]},
{"width":138,"height":280,"transform":[{"filter":"datum.s=='midlo'&&datum.e=='Oth'"}],"layer":[
{"transform":[{"fold":["lo","fit","up"],"as":["band","p"]}],"mark":"line","encoding":{"x":{"field":"x","type":"quantitative","scale":{"domain":[-12,184],"nice":false,"zero":false},"axis":null},"y":{"field":"p","type":"quantitative","scale":{"domain":[-0.065,1.3668],"nice":false,"zero":false},"axis":{"orient":"right","values":[0,0.2,0.4,0.6,0.8,1],"format":".1f","title":null}},"color":{"field":"band","type":"nominal","scale":{"domain":["fit","lo","up"],"range":["#ff2b2b","#222222","#222222"]},"legend":null},"strokeDash":{"field":"band","type":"nominal","scale":{"domain":["fit","lo","up"],"range":[[1,0],[1.8,10.6],[1.8,10.6]]},"legend":null},"strokeWidth":{"field":"band","type":"nominal","scale":{"domain":["fit","lo","up"],"range":[2,1.8,1.8]},"legend":null}}},
{"transform":[{"aggregate":[{"op":"count","as":"n"}],"groupby":["s","e"]}],"layer":[{"mark":{"type":"rect","fill":"#d4f8d4"},"encoding":{"x":{"datum":-12},"x2":{"datum":184},"y":{"datum":1.2134},"y2":{"datum":1.3668}}},{"mark":{"type":"rect","fill":"#fde5cf"},"encoding":{"x":{"datum":-12},"x2":{"datum":184},"y":{"datum":1.06},"y2":{"datum":1.2134}}},{"mark":"text","encoding":{"x":{"datum":86},"y":{"datum":1.29},"text":{"field":"s"}}},{"mark":"text","encoding":{"x":{"datum":86},"y":{"datum":1.137},"text":{"field":"e"}}}]}]},
{"width":138,"height":280,"transform":[{"filter":"datum.s=='lo'&&datum.e=='Pak'"}],"layer":[
{"transform":[{"fold":["lo","fit","up"],"as":["band","p"]}],"mark":"line","encoding":{"x":{"field":"x","type":"quantitative","scale":{"domain":[-12,184],"nice":false,"zero":false},"axis":{"orient":"bottom","values":[0,50,100,150],"title":null}},"y":{"field":"p","type":"quantitative","scale":{"domain":[-0.065,1.3668],"nice":false,"zero":false},"axis":{"orient":"left","values":[0,0.2,0.4,0.6,0.8,1],"format":".1f","title":null}},"color":{"field":"band","type":"nominal","scale":{"domain":["fit","lo","up"],"range":["#ff2b2b","#222222","#222222"]},"legend":null},"strokeDash":{"field":"band","type":"nominal","scale":{"domain":["fit","lo","up"],"range":[[1,0],[1.8,10.6],[1.8,10.6]]},"legend":null},"strokeWidth":{"field":"band","type":"nominal","scale":{"domain":["fit","lo","up"],"range":[2,1.8,1.8]},"legend":null}}},
{"transform":[{"aggregate":[{"op":"count","as":"n"}],"groupby":["s","e"]}],"layer":[{"mark":{"type":"rect","fill":"#d4f8d4"},"encoding":{"x":{"datum":-12},"x2":{"datum":184},"y":{"datum":1.2134},"y2":{"datum":1.3668}}},{"mark":{"type":"rect","fill":"#fde5cf"},"encoding":{"x":{"datum":-12},"x2":{"datum":184},"y":{"datum":1.06},"y2":{"datum":1.2134}}},{"mark":"text","encoding":{"x":{"datum":86},"y":{"datum":1.29},"text":{"field":"s"}}},{"mark":"text","encoding":{"x":{"datum":86},"y":{"datum":1.137},"text":{"field":"e"}}}]}]},
{"width":138,"height":280,"transform":[{"filter":"datum.s=='lo'&&datum.e=='Mao'"}],"layer":[
{"transform":[{"fold":["lo","fit","up"],"as":["band","p"]}],"mark":"line","encoding":{"x":{"field":"x","type":"quantitative","scale":{"domain":[-12,184],"nice":false,"zero":false},"axis":{"orient":"bottom","values":[0,50,100,150],"labels":false,"title":null}},"y":{"field":"p","type":"quantitative","scale":{"domain":[-0.065,1.3668],"nice":false,"zero":false},"axis":null},"color":{"field":"band","type":"nominal","scale":{"domain":["fit","lo","up"],"range":["#ff2b2b","#222222","#222222"]},"legend":null},"strokeDash":{"field":"band","type":"nominal","scale":{"domain":["fit","lo","up"],"range":[[1,0],[1.8,10.6],[1.8,10.6]]},"legend":null},"strokeWidth":{"field":"band","type":"nominal","scale":{"domain":["fit","lo","up"],"range":[2,1.8,1.8]},"legend":null}}},
{"transform":[{"aggregate":[{"op":"count","as":"n"}],"groupby":["s","e"]}],"layer":[{"mark":{"type":"rect","fill":"#d4f8d4"},"encoding":{"x":{"datum":-12},"x2":{"datum":184},"y":{"datum":1.2134},"y2":{"datum":1.3668}}},{"mark":{"type":"rect","fill":"#fde5cf"},"encoding":{"x":{"datum":-12},"x2":{"datum":184},"y":{"datum":1.06},"y2":{"datum":1.2134}}},{"mark":"text","encoding":{"x":{"datum":86},"y":{"datum":1.29},"text":{"field":"s"}}},{"mark":"text","encoding":{"x":{"datum":86},"y":{"datum":1.137},"text":{"field":"e"}}}]}]},
{"width":138,"height":280,"transform":[{"filter":"datum.s=='lo'&&datum.e=='Pac'"}],"layer":[
{"transform":[{"fold":["lo","fit","up"],"as":["band","p"]}],"mark":"line","encoding":{"x":{"field":"x","type":"quantitative","scale":{"domain":[-12,184],"nice":false,"zero":false},"axis":{"orient":"bottom","values":[0,50,100,150],"title":"Number of achievement standards available"}},"y":{"field":"p","type":"quantitative","scale":{"domain":[-0.065,1.3668],"nice":false,"zero":false},"axis":null},"color":{"field":"band","type":"nominal","scale":{"domain":["fit","lo","up"],"range":["#ff2b2b","#222222","#222222"]},"legend":null},"strokeDash":{"field":"band","type":"nominal","scale":{"domain":["fit","lo","up"],"range":[[1,0],[1.8,10.6],[1.8,10.6]]},"legend":null},"strokeWidth":{"field":"band","type":"nominal","scale":{"domain":["fit","lo","up"],"range":[2,1.8,1.8]},"legend":null}}},
{"transform":[{"aggregate":[{"op":"count","as":"n"}],"groupby":["s","e"]}],"layer":[{"mark":{"type":"rect","fill":"#d4f8d4"},"encoding":{"x":{"datum":-12},"x2":{"datum":184},"y":{"datum":1.2134},"y2":{"datum":1.3668}}},{"mark":{"type":"rect","fill":"#fde5cf"},"encoding":{"x":{"datum":-12},"x2":{"datum":184},"y":{"datum":1.06},"y2":{"datum":1.2134}}},{"mark":"text","encoding":{"x":{"datum":86},"y":{"datum":1.29},"text":{"field":"s"}}},{"mark":"text","encoding":{"x":{"datum":86},"y":{"datum":1.137},"text":{"field":"e"}}}]}]},
{"width":138,"height":280,"transform":[{"filter":"datum.s=='lo'&&datum.e=='Asn'"}],"layer":[
{"transform":[{"fold":["lo","fit","up"],"as":["band","p"]}],"mark":"line","encoding":{"x":{"field":"x","type":"quantitative","scale":{"domain":[-12,184],"nice":false,"zero":false},"axis":{"orient":"bottom","values":[0,50,100,150],"labels":false,"title":null}},"y":{"field":"p","type":"quantitative","scale":{"domain":[-0.065,1.3668],"nice":false,"zero":false},"axis":null},"color":{"field":"band","type":"nominal","scale":{"domain":["fit","lo","up"],"range":["#ff2b2b","#222222","#222222"]},"legend":null},"strokeDash":{"field":"band","type":"nominal","scale":{"domain":["fit","lo","up"],"range":[[1,0],[1.8,10.6],[1.8,10.6]]},"legend":null},"strokeWidth":{"field":"band","type":"nominal","scale":{"domain":["fit","lo","up"],"range":[2,1.8,1.8]},"legend":null}}},
{"transform":[{"aggregate":[{"op":"count","as":"n"}],"groupby":["s","e"]}],"layer":[{"mark":{"type":"rect","fill":"#d4f8d4"},"encoding":{"x":{"datum":-12},"x2":{"datum":184},"y":{"datum":1.2134},"y2":{"datum":1.3668}}},{"mark":{"type":"rect","fill":"#fde5cf"},"encoding":{"x":{"datum":-12},"x2":{"datum":184},"y":{"datum":1.06},"y2":{"datum":1.2134}}},{"mark":"text","encoding":{"x":{"datum":86},"y":{"datum":1.29},"text":{"field":"s"}}},{"mark":"text","encoding":{"x":{"datum":86},"y":{"datum":1.137},"text":{"field":"e"}}}]}]},
{"width":138,"height":280,"transform":[{"filter":"datum.s=='lo'&&datum.e=='Oth'"}],"layer":[
{"transform":[{"fold":["lo","fit","up"],"as":["band","p"]}],"mark":"line","encoding":{"x":{"field":"x","type":"quantitative","scale":{"domain":[-12,184],"nice":false,"zero":false},"axis":{"orient":"bottom","values":[0,50,100,150],"title":null}},"y":{"field":"p","type":"quantitative","scale":{"domain":[-0.065,1.3668],"nice":false,"zero":false},"axis":{"orient":"right","values":[0,0.2,0.4,0.6,0.8,1],"labels":false,"title":null}},"color":{"field":"band","type":"nominal","scale":{"domain":["fit","lo","up"],"range":["#ff2b2b","#222222","#222222"]},"legend":null},"strokeDash":{"field":"band","type":"nominal","scale":{"domain":["fit","lo","up"],"range":[[1,0],[1.8,10.6],[1.8,10.6]]},"legend":null},"strokeWidth":{"field":"band","type":"nominal","scale":{"domain":["fit","lo","up"],"range":[2,1.8,1.8]},"legend":null}}},
{"transform":[{"aggregate":[{"op":"count","as":"n"}],"groupby":["s","e"]}],"layer":[{"mark":{"type":"rect","fill":"#d4f8d4"},"encoding":{"x":{"datum":-12},"x2":{"datum":184},"y":{"datum":1.2134},"y2":{"datum":1.3668}}},{"mark":{"type":"rect","fill":"#fde5cf"},"encoding":{"x":{"datum":-12},"x2":{"datum":184},"y":{"datum":1.06},"y2":{"datum":1.2134}}},{"mark":"text","encoding":{"x":{"datum":86},"y":{"datum":1.29},"text":{"field":"s"}}},{"mark":"text","encoding":{"x":{"datum":86},"y":{"datum":1.137},"text":{"field":"e"}}}]}]}
],
"config": {
"font": "Liberation Sans",
"view": {"stroke": "black", "strokeWidth": 2},
"axis": {"domain": false, "grid": false, "ticks": true, "tickSize": 10, "tickWidth": 2, "tickColor": "black", "labelFont": "Liberation Sans", "labelFontSize": 20, "labelColor": "black", "labelOverlap": false, "labelBound": false, "labelFlush": false, "titleFont": "Liberation Sans", "titleFontSize": 25, "titleFontWeight": "normal", "titleColor": "black", "titlePadding": 17},
"axisX": {"labelPadding": 11},
"axisY": {"labelPadding": 11},
"rect": {"stroke": "black", "strokeWidth": 2},
"text": {"fontSize": 24, "baseline": "middle", "font": "Liberation Sans", "color": "black"},
"line": {"interpolate": "monotone"}
}
}
